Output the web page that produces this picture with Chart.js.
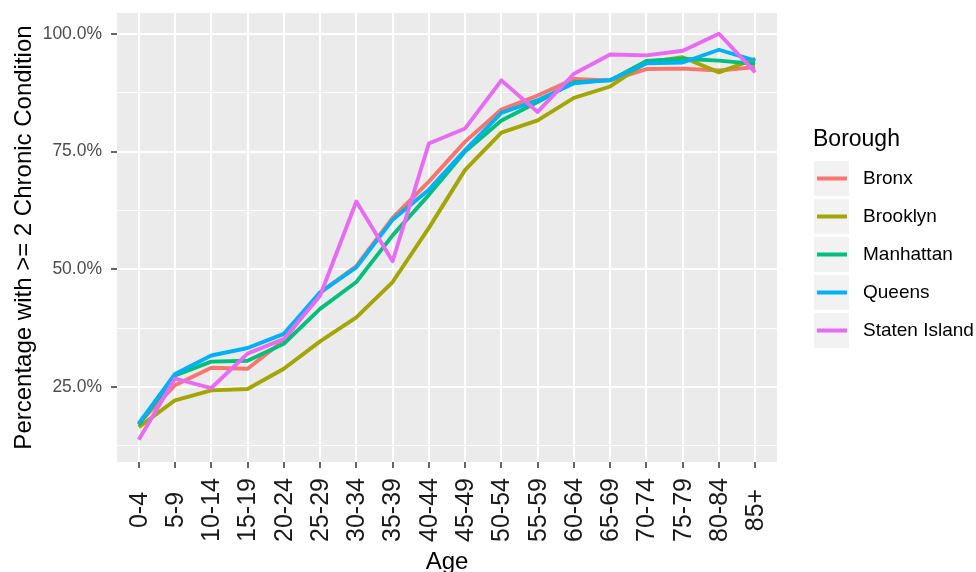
<!DOCTYPE html>
<html>
<head>
<meta charset="utf-8">
<script src="https://cdn.jsdelivr.net/npm/chart.js@4.4.1/dist/chart.umd.min.js"></script>
<style>
  html, body { margin: 0; padding: 0; background: #fff; }
  #wrap { width: 976px; height: 572px; }
</style>
</head>
<body>
<div id="wrap"><canvas id="chart" width="976" height="572"></canvas></div>
<script>
const ageGroups = ["0-4", "5-9", "10-14", "15-19", "20-24", "25-29", "30-34", "35-39", "40-44",
  "45-49", "50-54", "55-59", "60-64", "65-69", "70-74", "75-79", "80-84", "85+"];

const boroughs = ["Bronx", "Brooklyn", "Manhattan", "Queens", "Staten Island"];

const bronx = [17.3, 25.4, 29.1, 28.9, 34.9, 45.0, 50.7, 60.9, 68.6, 77.1, 83.9, 86.9, 90.4, 90.1, 92.5, 92.6, 92.2, 92.9];
const brooklyn = [16.5, 22.2, 24.3, 24.6, 28.9, 34.7, 39.8, 47.3, 58.8, 71.1, 79.0, 81.6, 86.4, 88.8, 93.9, 95.0, 91.8, 94.7];
const manhattan = [17.0, 27.5, 30.4, 30.6, 34.2, 41.6, 47.3, 57.2, 65.8, 75.0, 81.6, 85.5, 89.7, 90.1, 94.2, 94.7, 94.3, 93.6];
const queens = [17.3, 27.8, 31.7, 33.3, 36.3, 45.1, 50.4, 60.5, 66.9, 75.3, 83.2, 85.9, 89.5, 90.2, 93.7, 93.9, 96.6, 94.3];
const statenIsland = [13.8, 26.8, 24.8, 32.1, 35.2, 44.4, 64.4, 51.7, 76.7, 79.9, 90.1, 83.4, 91.5, 95.6, 95.4, 96.4, 100.0, 91.8];

const seriesValues = [bronx, brooklyn, manhattan, queens, statenIsland];
const colors = ["#F8766D", "#A3A500", "#00BF7D", "#00B0F6", "#E76BF3"];
const yTicks = [12.5, 25, 37.5, 50, 62.5, 75, 87.5, 100];

const FONT = "'Liberation Sans', Arial, Helvetica, sans-serif";

// grey panel behind the plot
const panelBg = {
  id: "panelBg",
  beforeDraw(chart) {
    const { ctx, chartArea: a } = chart;
    ctx.save();
    ctx.fillStyle = "#EBEBEB";
    ctx.fillRect(a.left, a.top, a.right - a.left, a.bottom - a.top);
    ctx.restore();
  }
};

// x tick labels, rotated and centred like ggplot
const xLabels = {
  id: "xLabels",
  afterDraw(chart) {
    const { ctx } = chart;
    const scale = chart.scales.x;
    ctx.save();
    ctx.font = "25px " + FONT;
    ctx.fillStyle = "#1a1a1a";
    ctx.textAlign = "center";
    ctx.textBaseline = "middle";
    scale.ticks.forEach((t) => {
      const x = scale.getPixelForValue(t.value);
      ctx.save();
      ctx.translate(x + 1, 510);
      ctx.rotate(-Math.PI / 2);
      ctx.fillText(ageGroups[t.value], 0, 0);
      ctx.restore();
    });
    ctx.restore();
  }
};

// ggplot style legend on the right
const sideLegend = {
  id: "sideLegend",
  afterDraw(chart) {
    const { ctx } = chart;
    ctx.save();
    ctx.fillStyle = "#000";
    ctx.font = "23px " + FONT;
    ctx.textAlign = "left";
    ctx.textBaseline = "alphabetic";
    ctx.fillText("Borough", 813, 146);
    chart.data.datasets.forEach((ds, i) => {
      const top = 161 + i * 38;
      ctx.fillStyle = "#F2F2F2";
      ctx.fillRect(814, top, 35, 35);
      ctx.strokeStyle = ds.borderColor;
      ctx.lineWidth = 4;
      ctx.beginPath();
      ctx.moveTo(817, top + 17.5);
      ctx.lineTo(847, top + 17.5);
      ctx.stroke();
      ctx.fillStyle = "#000";
      ctx.font = "19px " + FONT;
      ctx.textBaseline = "middle";
      ctx.fillText(ds.label, 863, top + 18);
    });
    ctx.restore();
  }
};

const datasets = boroughs.map((name, i) => ({
  label: name,
  data: seriesValues[i].map((v, j) => ({ x: j, y: v })),
  borderColor: colors[i],
  backgroundColor: colors[i],
  borderWidth: 3.9,
  pointRadius: 0,
  tension: 0,
  fill: false,
  borderJoinStyle: "round",
  order: boroughs.length - i
}));

new Chart(document.getElementById("chart"), {
  type: "line",
  data: { datasets },
  plugins: [panelBg, xLabels, sideLegend],
  options: {
    responsive: false,
    animation: false,
    layout: { padding: { top: 13, right: 199, bottom: 0, left: 0 } },
    plugins: {
      legend: { display: false },
      tooltip: { enabled: false }
    },
    scales: {
      x: {
        type: "linear",
        min: -0.6,
        max: 17.6,
        afterBuildTicks: (scale) => {
          scale.ticks = ageGroups.map((_, i) => ({ value: i }));
        },
        afterFit: (scale) => {
          scale.height = 110;
          scale.paddingLeft = 0;
          scale.paddingRight = 0;
        },
        ticks: { display: false },
        grid: {
          color: "#FFFFFF",
          lineWidth: 2,
          drawTicks: true,
          tickLength: 6,
          tickColor: "#333333",
          tickWidth: 1.5
        },
        border: { display: false },
        title: {
          display: true,
          text: "Age",
          color: "#000",
          font: { family: FONT, size: 24, lineHeight: 0.8 },
          padding: { top: 0, bottom: 0 }
        }
      },
      y: {
        type: "linear",
        min: 9.1,
        max: 104.4,
        afterBuildTicks: (scale) => {
          scale.ticks = yTicks.map((v) => ({ value: v }));
        },
        afterFit: (scale) => {
          scale.width = 117;
          scale.paddingTop = 0;
          scale.paddingBottom = 0;
        },
        ticks: {
          color: "#4D4D4D",
          font: { family: FONT, size: 17.5 },
          padding: 9,
          callback: (v) => (v % 25 === 0 ? v.toFixed(1) + "%" : "")
        },
        grid: {
          color: "#FFFFFF",
          lineWidth: (ctx) => (ctx.tick && ctx.tick.value % 25 === 0 ? 2 : 1),
          drawTicks: true,
          tickLength: 6,
          tickColor: (ctx) => (ctx.tick && ctx.tick.value % 25 === 0 ? "#333333" : "rgba(0,0,0,0)"),
          tickWidth: 1.5
        },
        border: { display: false },
        title: {
          display: true,
          text: "Percentage with >= 2 Chronic Condition",
          color: "#000",
          font: { family: FONT, size: 24, lineHeight: 1 },
          padding: { top: 12, bottom: 0 }
        }
      }
    }
  }
});
</script>
</body>
</html>
